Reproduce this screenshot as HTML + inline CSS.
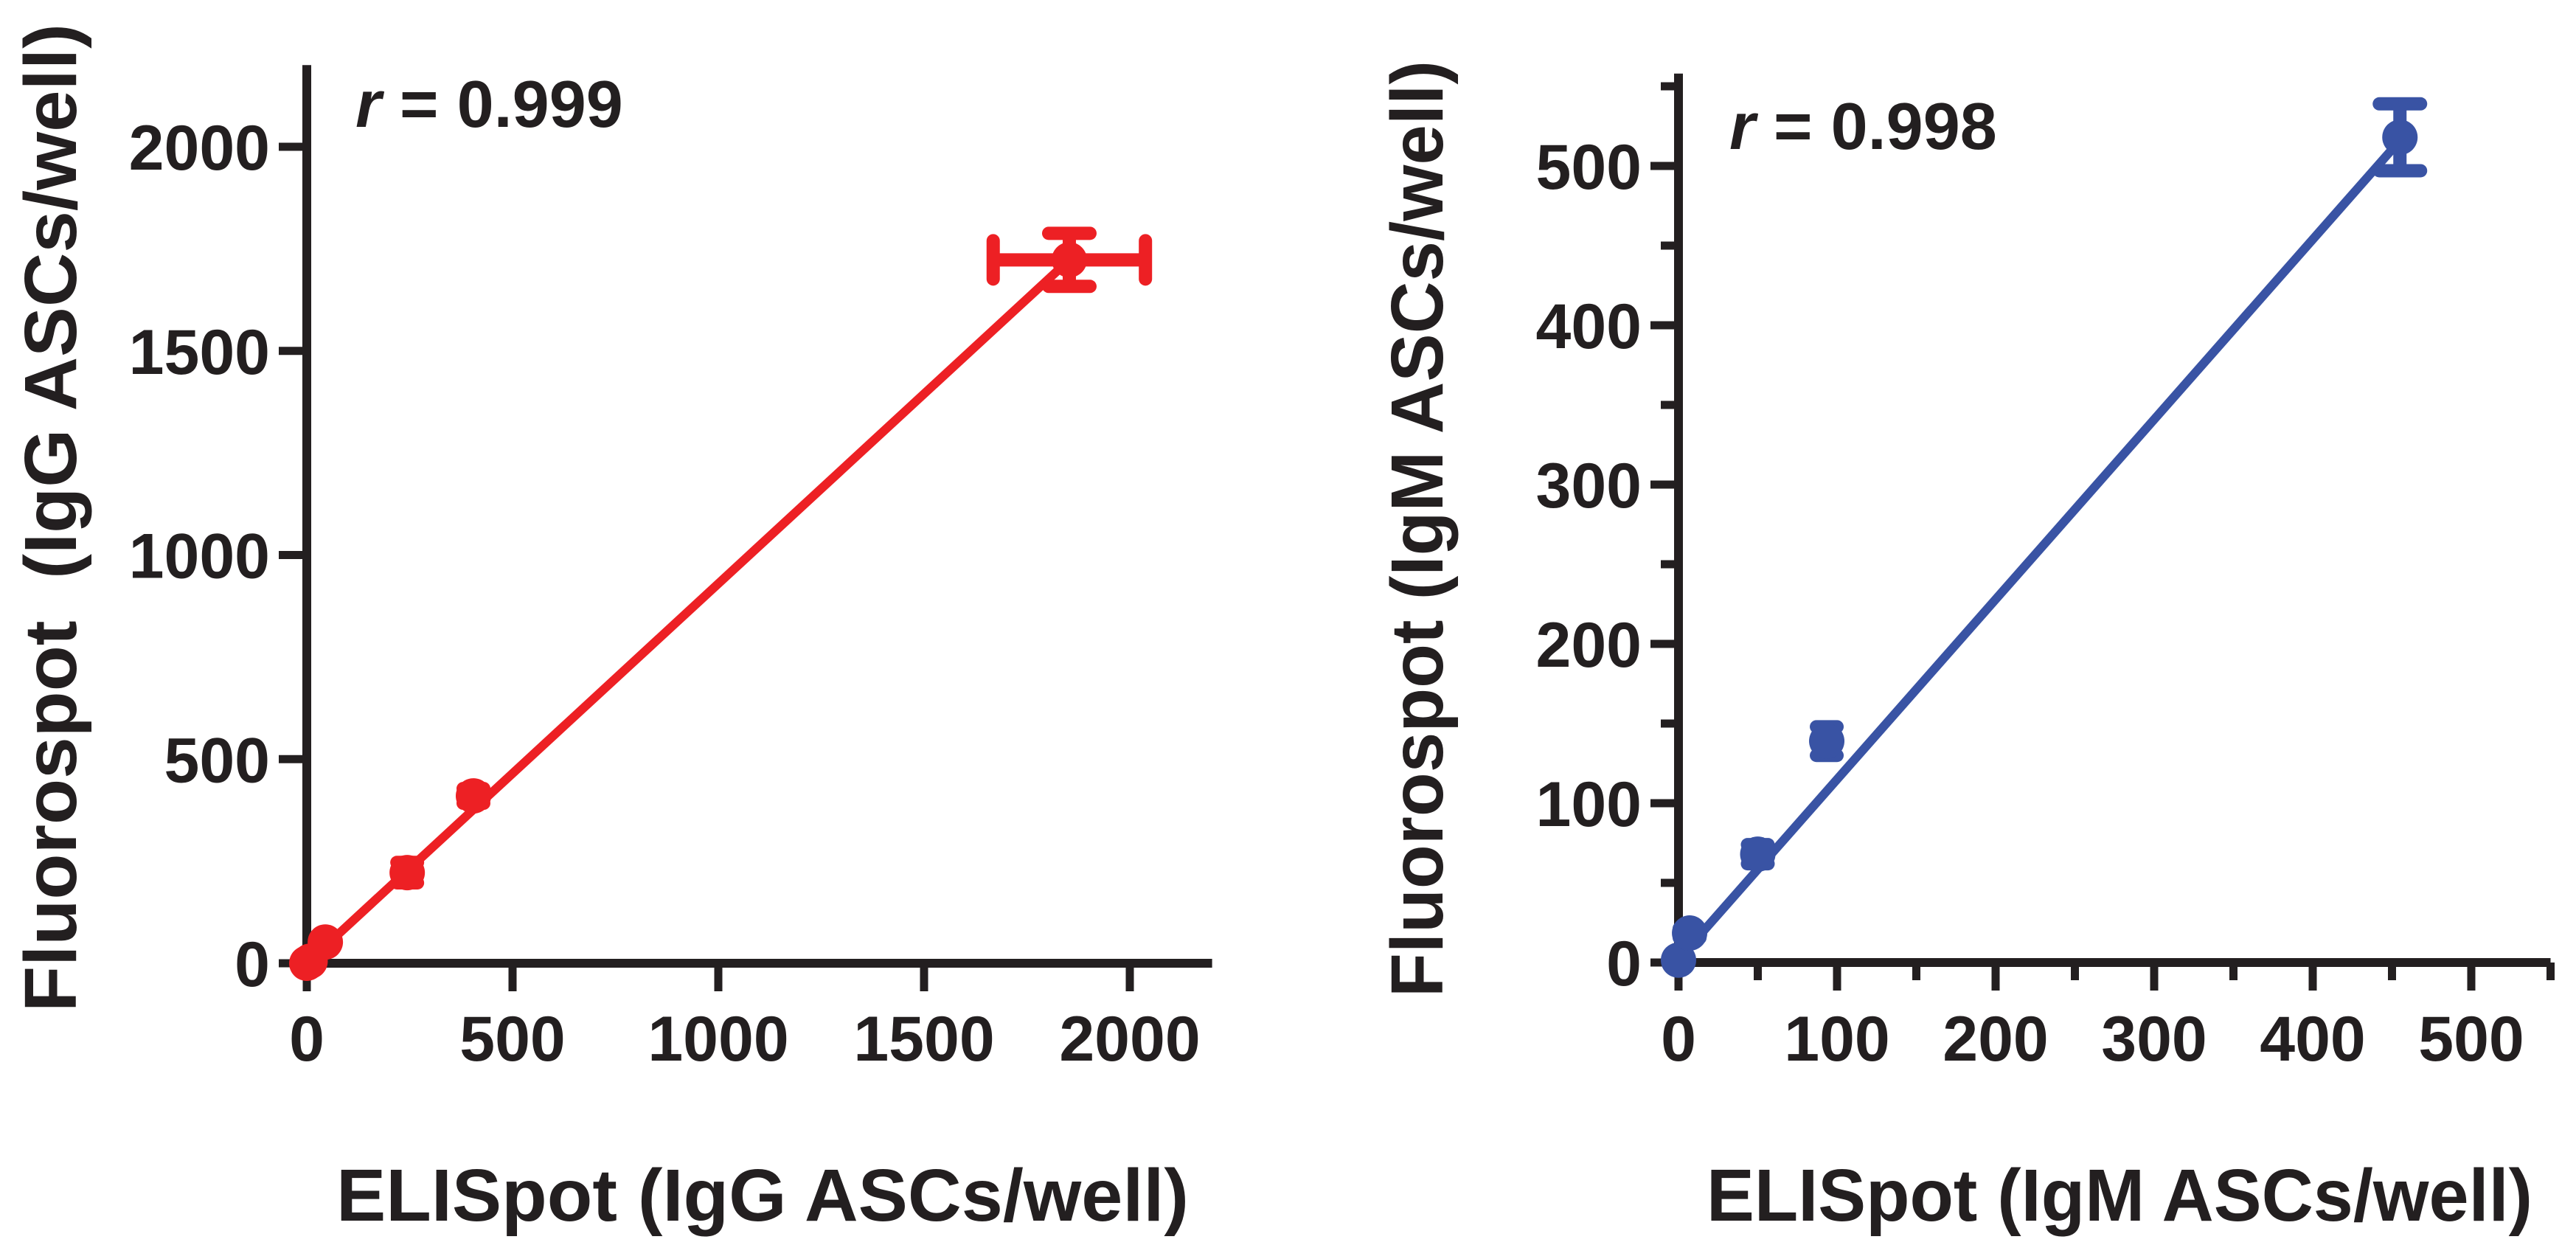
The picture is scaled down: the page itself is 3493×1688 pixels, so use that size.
<!DOCTYPE html>
<html><head><meta charset="utf-8"><style>
html,body{margin:0;padding:0;background:#fff}
svg{display:block}
text{font-family:"Liberation Sans",Arial,sans-serif;font-weight:bold;fill:#231f20}
</style></head><body>
<svg id="fig" width="3493" height="1688" viewBox="0 0 3493 1688" xmlns="http://www.w3.org/2000/svg"></svg>
<script>
// Left chart (IgG)
const iggX = [0, 8, 45, 244, 405, 1853];
const iggY = [0, 5, 52, 222, 410, 1723];
const iggXErr = [0, 0, 0, 0, 0, 185];
const iggYErr = [0, 0, 6, 25, 18, 65];
const iggFit = [0, 0, 1853, 1723];
const iggTicks = [0, 500, 1000, 1500, 2000];
// Right chart (IgM)
const igmX = [0, 7, 50, 93.5, 455];
const igmY = [1.5, 18.5, 68, 139, 518];
const igmYErr = [0, 3, 6, 9, 21];
const igmFit = [0, 2, 455, 516];
const igmTicks = [0, 100, 200, 300, 400, 500];
const igmMinor = [50, 150, 250, 350, 450, 550];

const NS = 'http://www.w3.org/2000/svg';
const svg = document.getElementById('fig');
function mk(tag, attrs, parent) {
  const e = document.createElementNS(NS, tag);
  for (const k in attrs) e.setAttribute(k, attrs[k]);
  (parent || svg).appendChild(e);
  return e;
}
const INK = '#231f20';

function drawChart(cfg) {
  const g = mk('g', {});
  
  
  const sx = v => cfg.x0 + v * cfg.kx;
  const sy = v => cfg.y0 - v * cfg.ky;
  const ya = mk('line', {x1: cfg.x0, y1: sy(cfg.ymax), x2: cfg.x0, y2: cfg.y0 + 6, stroke: INK, 'stroke-width': 12}, g);
  
  
  const xa = mk('line', {x1: cfg.x0 - 6, y1: cfg.y0, x2: sx(cfg.xmax), y2: cfg.y0, stroke: INK, 'stroke-width': 12}, g);
  
  
  cfg.ticks.forEach(t => {
    mk('line', {x1: sx(t), y1: cfg.y0, x2: sx(t), y2: cfg.y0 + 38, stroke: INK, 'stroke-width': 11}, g);
    const xl = mk('text', {x: sx(t), y: 1438, 'font-size': 86, 'text-anchor': 'middle'}, g);
    xl.textContent = t;
    
    
    mk('line', {x1: cfg.x0 - 38, y1: sy(t), x2: cfg.x0, y2: sy(t), stroke: INK, 'stroke-width': 11}, g);
    const yl = mk('text', {x: cfg.x0 - 50, y: sy(t) + 31, 'font-size': 86, 'text-anchor': 'end'}, g);
    yl.textContent = t;
    
    
  });
  (cfg.minor || []).forEach(t => {
    mk('line', {x1: sx(t), y1: cfg.y0, x2: sx(t), y2: cfg.y0 + 24, stroke: INK, 'stroke-width': 11}, g);
    mk('line', {x1: cfg.x0 - 24, y1: sy(t), x2: cfg.x0, y2: sy(t), stroke: INK, 'stroke-width': 11}, g);
  });
  const fl = mk('line', {x1: sx(cfg.fit[0]), y1: sy(cfg.fit[1]), x2: sx(cfg.fit[2]), y2: sy(cfg.fit[3]), stroke: cfg.color, 'stroke-width': 12}, g);
  
  
  cfg.xs.forEach((xv, i) => {
    const cx = sx(xv), cy = sy(cfg.ys[i]);
    const ye = cfg.yerr[i] * cfg.ky;
    const big = i === cfg.xs.length - 1;
    const cw = big ? 28 : 14;
    if (ye > 0) {
      mk('line', {x1: cx, y1: cy - ye, x2: cx, y2: cy + ye, stroke: cfg.color, 'stroke-width': 18}, g);
      mk('line', {x1: cx - cw, y1: cy - ye, x2: cx + cw, y2: cy - ye, stroke: cfg.color, 'stroke-width': 18, 'stroke-linecap': 'round'}, g);
      mk('line', {x1: cx - cw, y1: cy + ye, x2: cx + cw, y2: cy + ye, stroke: cfg.color, 'stroke-width': 18, 'stroke-linecap': 'round'}, g);
    }
    const xe = cfg.xerr ? cfg.xerr[i] * cfg.kx : 0;
    if (xe > 0) {
      mk('line', {x1: cx - xe, y1: cy, x2: cx + xe, y2: cy, stroke: cfg.color, 'stroke-width': 18}, g);
      mk('line', {x1: cx - xe, y1: cy - 26, x2: cx - xe, y2: cy + 26, stroke: cfg.color, 'stroke-width': 18, 'stroke-linecap': 'round'}, g);
      mk('line', {x1: cx + xe, y1: cy - 26, x2: cx + xe, y2: cy + 26, stroke: cfg.color, 'stroke-width': 18, 'stroke-linecap': 'round'}, g);
    }
    const c = mk('circle', {cx: cx, cy: cy, r: 24, fill: cfg.color}, g);
    
    
  });
}

drawChart({name: 'igg-chart', x0: 416, y0: 1306, kx: 0.558, ky: 0.5535, xmax: 2200, ymax: 2200,
  ticks: iggTicks, xs: iggX, ys: iggY, xerr: iggXErr, yerr: iggYErr, fit: iggFit, color: '#ed2024'});
drawChart({name: 'igm-chart', x0: 2276, y0: 1305, kx: 2.15, ky: 2.16, xmax: 550, ymax: 558,
  ticks: igmTicks, minor: igmMinor, xs: igmX, ys: igmY, yerr: igmYErr, fit: igmFit, color: '#3953a4'});
</script>
<svg style="position:absolute;left:0;top:0" width="3493" height="1688" viewBox="0 0 3493 1688" xmlns="http://www.w3.org/2000/svg">
  <text x="482" y="172" font-size="90"><tspan font-style="italic">r</tspan> = 0.999</text>
  <text x="2345" y="202" font-size="90"><tspan font-style="italic">r</tspan> = 0.998</text>
  <text x="1034" y="1655" font-size="100" text-anchor="middle" textLength="1156" lengthAdjust="spacingAndGlyphs">ELISpot (IgG ASCs/well)</text>
  <text x="2874" y="1655" font-size="100" text-anchor="middle" textLength="1120" lengthAdjust="spacingAndGlyphs">ELISpot (IgM ASCs/well)</text>
  <text transform="translate(103,702) rotate(-90)" font-size="100" text-anchor="middle" textLength="1340" lengthAdjust="spacingAndGlyphs" xml:space="preserve">Fluorospot  (IgG ASCs/well)</text>
  <text transform="translate(1956,717) rotate(-90)" font-size="100" text-anchor="middle" textLength="1270" lengthAdjust="spacingAndGlyphs">Fluorospot (IgM ASCs/well)</text>
</svg>
</body></html>
